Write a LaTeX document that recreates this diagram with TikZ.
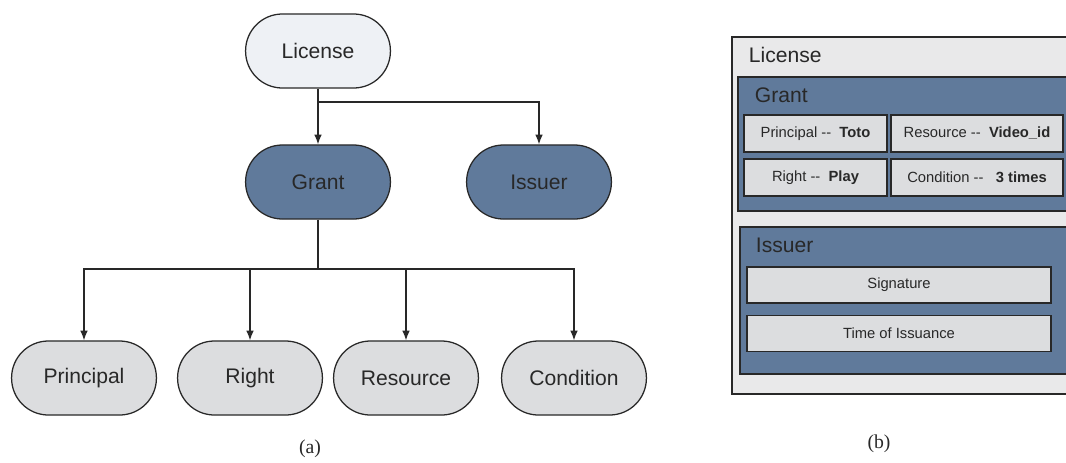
\documentclass[tikz,border=0pt]{standalone}
\usepackage{fontspec}
\setmainfont{Liberation Sans}
\newfontfamily\capfont{Liberation Serif}
\usetikzlibrary{arrows, arrows.meta, positioning}
\definecolor{grantblue}{RGB}{96,122,155}
\definecolor{lightnode}{RGB}{238,241,245}
\definecolor{grayfill}{RGB}{220,221,223}
\definecolor{panelgray}{RGB}{233,233,234}
\definecolor{inkgray}{RGB}{40,40,40}
\tikzset{x=0.025cm, y=-0.025cm,
    every node/.style={text=inkgray}, % Dark text everywhere
    pill/.style={ % Rounded nodes of the tree
    draw=inkgray, line width=0.9pt,
    minimum width=3.62cm, minimum height=1.85cm,
    rounded corners=0.92cm,
    font=\fontsize{15}{18}\selectfont},
    panel/.style={ % Boxes of the nested view
    draw=inkgray, line width=0.9pt, rectangle},
    field/.style={ % Small fields inside the boxes
    panel, fill=grayfill, inner sep=0pt,
    font=\fontsize{10.5}{12}\selectfont},
    link/.style={ % Tree connectors
    draw=inkgray, line width=0.9pt},
    >={Latex[length=7pt, width=5.5pt]}}

\begin{document}
\begin{tikzpicture}
    \clip (0,0) rectangle (1066,462);

    % Tree view
    \node[pill, fill=lightnode] (license) at (318,51) {License};
    \node[pill, fill=grantblue] (grant) at (318,182) {Grant};
    \node[pill, fill=grantblue] (issuer) at (539,182) {Issuer};
    \node[pill, fill=grayfill] (principal) at (84,378) {Principal};
    \node[pill, fill=grayfill] (right) at (250,378) {Right};
    \node[pill, fill=grayfill] (resource) at (406,378) {Resource};
    \node[pill, fill=grayfill] (condition) at (574,378) {Condition};
    \coordinate (split1) at (318,102);
    \coordinate (split2) at (318,269);
    \draw[link, ->] (license) -- (grant);
    \draw[link, ->] (split1) -| (issuer.north);
    \draw[link] (grant) -- (split2);
    \foreach \leaf in {principal, right, resource, condition}
        \draw[link, ->] (split2) -| (\leaf.north);
    \node[font=\capfont\fontsize{14}{16}\selectfont] (capa) at (310,449) {(a)};

    % Nested view
    \draw[panel, fill=panelgray] (732,37) rectangle (1072,394);
    \node[anchor=west, font=\fontsize{15}{18}\selectfont] (boxlicense) at (744,55) {License};
    \draw[panel, fill=grantblue] (738,77) rectangle (1072,211);
    \node[anchor=west, font=\fontsize{15}{18}\selectfont] (boxgrant) at (750,95) {Grant};
    \node[field, minimum width=3.57cm, minimum height=0.92cm] (fprincipal) at (815.5,133.5) {Principal -{}-~~\textbf{Toto}};
    \node[field, minimum width=4.3cm, minimum height=0.92cm] (fresource) at (977,133.5) {Resource -{}-~~\textbf{Video\_id}};
    \node[field, minimum width=3.57cm, minimum height=0.92cm] (fright) at (815.5,177.5) {Right -{}-~~\textbf{Play}};
    \node[field, minimum width=4.3cm, minimum height=0.92cm] (fcondition) at (977,177.5) {Condition -{}-~~~\textbf{3 times}};
    \draw[panel, fill=grantblue] (740,227) rectangle (1072,374);
    \node[anchor=west, font=\fontsize{15}{18}\selectfont] (boxissuer) at (751,245) {Issuer};
    \node[field, minimum width=7.6cm, minimum height=0.9cm] (fsignature) at (899,285) {Signature};
    \node[field, minimum width=7.6cm, minimum height=0.9cm] (ftime) at (899,333.5) {Time of Issuance};
    \node[font=\capfont\fontsize{14}{16}\selectfont] (capb) at (879,444) {(b)};
\end{tikzpicture}
\end{document}
